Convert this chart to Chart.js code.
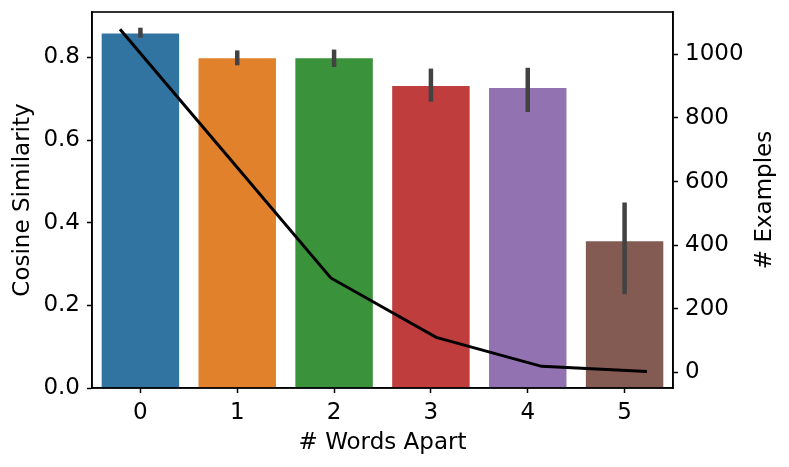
<!DOCTYPE html>
<html>
<head>
<meta charset="utf-8">
<script src="https://cdn.jsdelivr.net/npm/chart.js@4/dist/chart.umd.min.js"></script>
<style>
  html, body { margin: 0; padding: 0; background: #fff; }
  #c { display: block; }
</style>
</head>
<body>
<canvas id="c" width="789" height="467"></canvas>
<script>
// categories and values
const palabras = ['0', '1', '2', '3', '4', '5'];
const similitud = [0.858, 0.798, 0.798, 0.731, 0.726, 0.355];
const errorBajo = [0.848, 0.781, 0.777, 0.693, 0.668, 0.227];
const errorAlto = [0.872, 0.817, 0.819, 0.773, 0.775, 0.449];
const ejemplos = [1079, 688, 297, 110, 19, 3];
const ticksIzq = [0, 0.2, 0.4, 0.6, 0.8];
const ticksDer = [0, 200, 400, 600, 800, 1000];
const colores = ['#3274a1', '#e1812c', '#3a923a', '#c03d3e', '#9372b2', '#845b53'];

const FUENTE = { family: 'DejaVu Sans', size: 23 };

// error bars + frame + right title
const extras = {
    id: 'extras',
    afterDatasetDraw(chart, args) {
        if (args.index !== 0) return;
        const ctx = chart.ctx;
        const x = chart.scales.x, y = chart.scales.y;
        ctx.save();
        ctx.strokeStyle = '#424242';
        ctx.lineWidth = 4.5;
        for (let i = 0; i < palabras.length; i++) {
            const px = x.getPixelForValue(i);
            ctx.beginPath();
            ctx.moveTo(px, y.getPixelForValue(errorBajo[i]));
            ctx.lineTo(px, y.getPixelForValue(errorAlto[i]));
            ctx.stroke();
        }
        ctx.restore();
    },
    afterDraw(chart) {
        const ctx = chart.ctx;
        const a = chart.chartArea;
        ctx.save();
        ctx.strokeStyle = '#000';
        ctx.lineWidth = 1.6;
        ctx.strokeRect(a.left, a.top, a.right - a.left, a.bottom - a.top);
        // titulo eje derecho (lee de abajo hacia arriba)
        ctx.translate(765, (a.top + a.bottom) / 2);
        ctx.rotate(-Math.PI / 2);
        ctx.font = '23px "DejaVu Sans"';
        ctx.fillStyle = '#000';
        ctx.textAlign = 'center';
        ctx.textBaseline = 'middle';
        ctx.fillText('# Examples', 0, 0);
        ctx.restore();
    }
};

new Chart(document.getElementById('c'), {
    type: 'bar',
    data: {
        labels: palabras,
        datasets: [
            {
                label: 'Cosine Similarity',
                data: similitud,
                backgroundColor: colores,
                barPercentage: 0.8,
                categoryPercentage: 1.0,
                grouped: false,
                xAxisID: 'x',
                yAxisID: 'y',
                order: 1
            },
            {
                type: 'line',
                label: '# Examples',
                data: ejemplos.map((v, i) => ({ x: i, y: v })),
                borderColor: '#000',
                borderWidth: 3,
                pointRadius: 0,
                tension: 0,
                fill: false,
                xAxisID: 'xl',
                yAxisID: 'y1',
                order: 0
            }
        ]
    },
    options: {
        responsive: false,
        devicePixelRatio: 1,
        animation: false,
        layout: { padding: { top: 12, left: 0, right: 0, bottom: 0 } },
        plugins: { legend: { display: false }, tooltip: { enabled: false } },
        scales: {
            x: {
                type: 'category',
                offset: true,
                afterFit(s) { s.height = 79; s.paddingLeft = 0; s.paddingRight = 0; },
                grid: { display: true, drawOnChartArea: false, offset: false, tickLength: 5, tickColor: '#000', tickWidth: 1.5 },
                border: { display: true, color: '#000', width: 1.6 },
                ticks: { color: '#000', font: FUENTE, padding: 6, maxRotation: 0 },
                title: { display: true, text: '# Words Apart', color: '#000', font: FUENTE, padding: { top: 0, bottom: 10 } }
            },
            xl: {
                type: 'linear',
                display: false,
                offset: false,
                min: -0.2657,
                max: 5.247
            },
            y: {
                position: 'left',
                min: 0,
                max: 0.91,
                afterFit(s) { s.width = 92; s.paddingTop = 0; s.paddingBottom = 0; },
                afterBuildTicks(s) { s.ticks = ticksIzq.map(v => ({ value: v })); },
                grid: { display: true, drawOnChartArea: false, tickLength: 5, tickColor: '#000', tickWidth: 1.5 },
                border: { display: true, color: '#000', width: 1.6 },
                ticks: { color: '#000', font: FUENTE, padding: 7, callback: v => v.toFixed(1) },
                title: { display: true, text: 'Cosine Similarity', color: '#000', font: FUENTE, padding: { top: 9, bottom: 0 } }
            },
            y1: {
                position: 'right',
                min: -49,
                max: 1133,
                afterFit(s) { s.width = 116; s.paddingTop = 0; s.paddingBottom = 0; },
                afterBuildTicks(s) { s.ticks = ticksDer.map(v => ({ value: v })); },
                grid: { display: true, drawOnChartArea: false, tickLength: 5, tickColor: '#000', tickWidth: 1.5 },
                border: { display: true, color: '#000', width: 1.6 },
                ticks: { color: '#000', font: FUENTE, padding: 7, callback: v => String(v) }
            }
        }
    },
    plugins: [extras]
});
</script>
</body>
</html>
